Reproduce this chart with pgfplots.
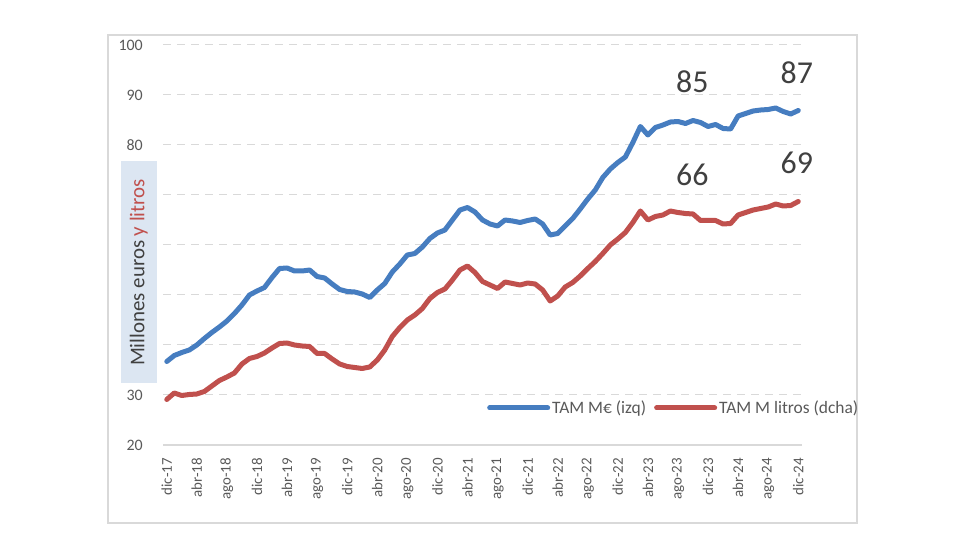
\documentclass[border=0pt]{standalone}
\usepackage{fontspec}
\setmainfont{Carlito}
\usepackage{pgfplots}
\usepackage{pgfplotstable}
\pgfplotsset{compat=1.18}

\definecolor{serA}{RGB}{70,125,192}
\definecolor{serB}{RGB}{192,80,77}
\definecolor{gridc}{RGB}{217,217,217}
\definecolor{txt}{RGB}{89,89,89}
\definecolor{lab}{RGB}{64,64,64}
\definecolor{boxc}{RGB}{220,230,242}

% m = months since dic-17
\pgfplotstableread{
m  eur   lit
0  36.7  29.1
1  37.9  30.4
2  38.5  29.9
3  39.0  30.1
4  40.0  30.2
5  41.3  30.7
6  42.5  31.8
7  43.6  32.9
8  44.8  33.6
9  46.3  34.4
10 48.0  36.2
11 50.0  37.3
12 50.8  37.7
13 51.5  38.4
14 53.5  39.4
15 55.3  40.3
16 55.4  40.4
17 54.8  40.0
18 54.8  39.8
19 55.0  39.7
20 53.7  38.3
21 53.4  38.3
22 52.2  37.2
23 51.1  36.2
24 50.7  35.7
25 50.6  35.5
26 50.2  35.3
27 49.5  35.6
28 51.0  37.0
29 52.3  39.0
30 54.6  41.7
31 56.2  43.5
32 58.0  45.0
33 58.3  46.0
34 59.6  47.3
35 61.3  49.3
36 62.4  50.5
37 63.0  51.2
38 65.0  53.0
39 67.0  55.0
40 67.5  55.8
41 66.6  54.5
42 65.0  52.7
43 64.2  52.0
44 63.8  51.3
45 65.0  52.6
46 64.8  52.3
47 64.5  52.0
48 64.9  52.4
49 65.2  52.2
50 64.2  51.0
51 62.0  48.8
52 62.3  49.8
53 63.8  51.6
54 65.3  52.5
55 67.2  53.8
56 69.2  55.3
57 71.0  56.7
58 73.5  58.3
59 75.2  60.0
60 76.5  61.2
61 77.6  62.5
62 80.5  64.5
63 83.7  66.8
64 82.0  65.0
65 83.5  65.7
66 84.0  66.0
67 84.6  66.8
68 84.7  66.5
69 84.3  66.3
70 84.9  66.2
71 84.5  64.9
72 83.7  64.9
73 84.1  64.9
74 83.3  64.2
75 83.2  64.3
76 85.8  66.0
77 86.3  66.5
78 86.8  67.0
79 87.0  67.3
80 87.1  67.6
81 87.4  68.2
82 86.7  67.8
83 86.2  67.9
84 86.9  68.7
}\datatab

\begin{document}
\begin{tikzpicture}[x=1bp,y=1bp]
\useasboundingbox (0,0) rectangle (980,560);
\draw[gridc, line width=1.5bp] (108,37) rectangle (857,525);
\begin{axis}[
  at={(163bp,115bp)}, anchor=south west,
  scale only axis, width=639bp, height=400bp,
  xmin=-0.5, xmax=84.5, ymin=20, ymax=100,
  axis line style={draw=none},
  major tick length=0pt,
  xtick={0,4,...,84},
  xticklabels={dic-17,abr-18,ago-18,dic-18,abr-19,ago-19,dic-19,abr-20,ago-20,dic-20,abr-21,ago-21,dic-21,abr-22,ago-22,dic-22,abr-23,ago-23,dic-23,abr-24,ago-24,dic-24},
  xticklabel style={yshift=-13bp, rotate=90, anchor=east, inner sep=0pt, text=txt, font=\fontsize{15}{16}\selectfont},
  ytick={30,40,...,100},
  yticklabels={30,,,,,80,90,100},
  extra y ticks={20},
  extra y tick labels={20},
  extra y tick style={grid style={solid, gridc, line width=1.2bp}},
  yticklabel style={anchor=east, inner sep=0pt, xshift=-20bp, text=txt, font=\fontsize{16}{17}\selectfont},
  ymajorgrids,
  grid style={gridc, line width=1bp, dash pattern=on 8bp off 6bp},
  legend style={at={(0.507,0.0925)}, anchor=west, draw=none, fill=none,
    legend columns=2, font=\fontsize{17.5}{19}\selectfont, text=txt,
    /tikz/every even column/.append style={column sep=6bp},
    inner sep=0pt},
  legend cell align=left,
  legend image code/.code={\draw[#1] (0bp,0bp) -- (58bp,0bp);},
  clip=false,
]
\addplot[serA, line width=5bp, line join=round, line cap=round] table[x=m, y=eur] {\datatab};
\addlegendentry{TAM M€ (izq)}
\addplot[serB, line width=5bp, line join=round, line cap=round] table[x=m, y=lit] {\datatab};
\addlegendentry{TAM M litros (dcha)}
\node[text=lab, font=\fontsize{32}{34}\selectfont] at (axis cs:69.9,92.7) {85};
\node[text=lab, font=\fontsize{32}{34}\selectfont] at (axis cs:83.8,94.5) {87};
\node[text=lab, font=\fontsize{32}{34}\selectfont] at (axis cs:69.9,74.0) {66};
\node[text=lab, font=\fontsize{32}{34}\selectfont] at (axis cs:83.8,76.4) {69};
\end{axis}
\node[fill=boxc, rotate=90, minimum width=222bp, minimum height=36bp, inner sep=0pt,
  font=\fontsize{21}{22}\selectfont] at (138.7,287.5)
  {\textcolor{lab}{Millones euros }\textcolor{serB}{y litros}};
\end{tikzpicture}
\end{document}
